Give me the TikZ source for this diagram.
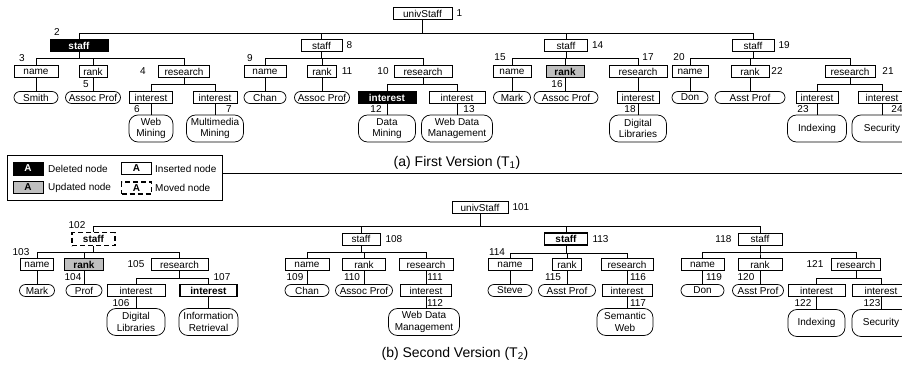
\documentclass[tikz,border=0pt]{standalone}
\usepackage{fontspec}
\setmainfont{Liberation Sans}
\newcommand\fsz{\fontsize{10}{11.8}\selectfont}
\newcommand\capsz{\fontsize{14}{16}\selectfont}
\begin{document}
\begin{tikzpicture}[x=1pt,y=-1pt,
  bx/.style={draw, line width=0.75pt, minimum height=12pt, inner sep=0pt, font=\fsz},
  lf/.style={draw, line width=0.75pt, rounded corners=6pt, minimum height=12pt, inner sep=0pt, font=\fsz},
  lf2/.style={lf, minimum height=27pt, rounded corners=9pt, align=center},
  del/.style={fill=black, text=white, font=\fsz\bfseries},
  upd/.style={fill=black!25, font=\fsz\bfseries},
  ins/.style={line width=1.8pt, font=\fsz\bfseries},
  mov/.style={dash pattern=on 5pt off 3pt, line width=1.1pt, font=\fsz\bfseries},
  lbl/.style={inner sep=0pt, font=\fsz},
  tr/.style={to path={(\tikztostart.south) -- ++(0,#1) -| (\tikztotarget.north)}},
  dn/.style={to path={(\tikztostart.south) -- (\tikztostart.south |- \tikztotarget.north)}},
  ln/.style={line width=0.75pt},
]
\clip (0,0) rectangle (902,365);
% ================= T1 =================
\node[bx, minimum width=59pt] (r1) at (422.5,13.5) {univStaff};
\node[lbl, anchor=west] (l1) at ([xshift=4pt]r1.east) {1};
\node[bx, del, minimum width=58pt] (s2) at (79,45.5) {staff};
\node[lbl] (l2) at (57,32) {2};
\node[bx, minimum width=41pt] (s8) at (321.5,45.5) {staff};
\node[lbl, anchor=west] (l8) at ([xshift=4pt]s8.east) {8};
\node[bx, minimum width=43pt] (s14) at (566,45.5) {staff};
\node[lbl, anchor=west] (l14) at ([xshift=4pt]s14.east) {14};
\node[bx, minimum width=42pt] (s19) at (753,45.5) {staff};
\node[lbl, anchor=west] (l19) at ([xshift=4pt]s19.east) {19};
% staff 2
\node[bx, minimum width=44pt] (n3) at (36,71.5) {name};
\node[lbl] (l3) at (22,58) {3};
\node[bx, minimum width=28pt] (k5) at (93,71.5) {rank};
\node[lbl] (l5) at (86,84) {5};
\node[bx, minimum width=51pt] (r4) at (184,71.5) {research};
\node[lbl] (l4) at (143,71.5) {4};
\node[lf, minimum width=44pt] (v3) at (36,97.5) {Smith};
\node[lf, minimum width=55pt] (v5) at (93,97.5) {Assoc Prof};
\node[bx, minimum width=43pt] (i6) at (151,97.5) {interest};
\node[lbl] (l6) at (137,109) {6};
\node[bx, minimum width=44pt] (i7) at (215,97.5) {interest};
\node[lbl] (l7) at (229,109) {7};
\node[lf2, minimum width=44pt] (v6) at (151,128.5) {Web\\Mining};
\node[lf2, minimum width=57pt] (v7) at (215,128.5) {Multimedia\\Mining};
% staff 8
\node[bx, minimum width=42pt] (n9) at (265,71.5) {name};
\node[lbl] (l9) at (250,58) {9};
\node[bx, minimum width=29pt] (k11) at (322,71.5) {rank};
\node[lbl] (l11) at (347,71.5) {11};
\node[bx, minimum width=58pt] (r10) at (423,71.5) {research};
\node[lbl] (l10) at (383,71.5) {10};
\node[lf, minimum width=42pt] (v9) at (265,97.5) {Chan};
\node[lf, minimum width=55pt] (v11) at (322,97.5) {Assoc Prof};
\node[bx, del, minimum width=58pt] (i12) at (387,97.5) {interest};
\node[lbl] (l12) at (376,109) {12};
\node[bx, minimum width=56pt] (i13) at (457,97.5) {interest};
\node[lbl] (l13) at (469,109) {13};
\node[lf2, minimum width=57pt] (v12) at (387,128.5) {Data\\Mining};
\node[lf2, minimum width=71pt] (v13) at (457,128.5) {Web Data\\Management};
% staff 14
\node[bx, minimum width=38pt] (n15) at (512,71.5) {name};
\node[lbl] (l15) at (500,57) {15};
\node[bx, upd, minimum width=38pt] (k16) at (565,71.5) {rank};
\node[lbl] (l16) at (557,84) {16};
\node[bx, minimum width=58pt] (r17) at (638,71.5) {research};
\node[lbl] (l17) at (648,57) {17};
\node[lf, minimum width=37pt] (v15) at (512,97.5) {Mark};
\node[lf, minimum width=64pt] (v16) at (566,97.5) {Assoc Prof};
\node[bx, minimum width=42pt] (i18) at (638,97.5) {interest};
\node[lbl] (l18) at (630,109) {18};
\node[lf2, minimum width=57pt] (v18) at (638,128.5) {Digital\\Libraries};
% staff 19
\node[bx, minimum width=36pt] (n20) at (690,71.5) {name};
\node[lbl] (l20) at (679,57) {20};
\node[bx, minimum width=38pt] (k22) at (750,71.5) {rank};
\node[lbl] (l22) at (777,71.5) {22};
\node[bx, minimum width=50pt] (r21) at (850,71.5) {research};
\node[lbl] (l21) at (888,71.5) {21};
\node[lf, minimum width=36pt] (v20) at (690,97.5) {Don};
\node[lf, minimum width=70pt] (v22) at (750,97.5) {Asst Prof};
\node[bx, minimum width=42pt] (i23) at (817,97.5) {interest};
\node[lbl] (l23) at (803,109) {23};
\node[bx, minimum width=48pt] (i24) at (882,97.5) {interest};
\node[lbl] (l24) at (897,109) {24};
\node[lf2, minimum width=59pt] (v23) at (817,128.5) {Indexing};
\node[lf2, minimum width=60pt] (v24) at (882,128.5) {Security};
% edges T1
\draw[ln] (r1) edge[tr=13] (s2) edge[tr=13] (s8) edge[tr=13] (s14) edge[tr=13] (s19);
\draw[ln] (s2) edge[tr=6.5] (n3) edge[tr=6.5] (k5) edge[tr=6.5] (r4);
\draw[ln] (s8) edge[tr=6.5] (n9) edge[tr=6.5] (k11) edge[tr=6.5] (r10);
\draw[ln] (s14) edge[tr=6.5] (n15) edge[tr=6.5] (k16) edge[tr=6.5] (r17);
\draw[ln] (s19) edge[tr=6.5] (n20) edge[tr=6.5] (k22) edge[tr=6.5] (r21);
\draw[ln] (r4) edge[tr=6.5] (i6) edge[tr=6.5] (i7);
\draw[ln] (r10) edge[tr=6.5] (i12) edge[tr=6.5] (i13);
\draw[ln] (r21) edge[tr=6.5] (i23) edge[tr=6.5] (i24);
\draw[ln] (r17) edge[dn] (i18);
\foreach \a/\b in {n3/v3,k5/v5,i6/v6,i7/v7,n9/v9,k11/v11,i12/v12,i13/v13,n15/v15,k16/v16,i18/v18,n20/v20,k22/v22,i23/v23,i24/v24}
  \draw[ln] (\a) edge[dn] (\b);
\node[inner sep=0pt, font=\capsz] (capa) at (457,162.5) {(a) First Version (T\textsubscript{1})};
% ================= legend =================
\node[draw, ln, minimum width=215pt, minimum height=45pt, inner sep=0pt] (leg) at (114.5,177.5) {};
\coordinate (legr) at (902,173);
\draw[line width=0.9pt] (leg.east |- legr) -- (legr);
\node[bx, del, minimum width=30pt, minimum height=13pt] (ka) at (28,168.5) {A};
\node[lbl, anchor=west] (kat) at (48,168.5) {Deleted node};
\node[bx, upd, minimum width=30pt, minimum height=12pt] (kb) at (28,187.5) {A};
\node[lbl, anchor=west] (kbt) at (48,187.5) {Updated node};
\node[bx, ins, minimum width=30pt, minimum height=12pt] (kc) at (136.5,168.5) {A};
\node[lbl, anchor=west] (kct) at (155,168.5) {Inserted node};
\node[bx, mov, minimum width=30pt, minimum height=12pt] (kd) at (136.5,188) {A};
\node[lbl, anchor=west] (kdt) at (155,187.5) {Moved node};
% ================= T2 =================
\node[bx, minimum width=56pt] (u101) at (480,207.5) {univStaff};
\node[lbl, anchor=west] (m101) at ([xshift=4pt]u101.east) {101};
\node[bx, mov, minimum width=43pt, minimum height=13pt] (s102) at (93.5,239) {staff};
\node[lbl] (m102) at (77,225) {102};
\node[bx, minimum width=38pt] (s108) at (361,239) {staff};
\node[lbl, anchor=west] (m108) at ([xshift=5pt]s108.east) {108};
\node[bx, ins, minimum width=43pt] (s113) at (566,239) {staff};
\node[lbl, anchor=west] (m113) at ([xshift=4pt]s113.east) {113};
\node[bx, minimum width=44pt] (s118) at (760,239) {staff};
\node[lbl, anchor=east] (m118) at ([xshift=-6pt]s118.west) {118};
% staff 102
\node[bx, minimum width=33pt] (n103) at (37,264.5) {name};
\node[lbl] (m103) at (21,252) {103};
\node[bx, upd, minimum width=39pt] (k104) at (84,264.5) {rank};
\node[lbl] (m104) at (73,277) {104};
\node[bx, minimum width=57pt] (r105) at (179.5,264.5) {research};
\node[lbl] (m105) at (136,264.5) {105};
\node[lf, minimum width=35pt] (w103) at (37,290.5) {Mark};
\node[lf, minimum width=36pt] (w104) at (84,290.5) {Prof};
\node[bx, minimum width=58pt] (i106) at (136,290.5) {interest};
\node[lbl] (m106) at (121,303) {106};
\node[bx, ins, minimum width=57pt] (i107) at (208.5,290.5) {interest};
\node[lbl] (m107) at (222,277) {107};
\node[lf2, minimum width=58pt] (w106) at (136,322) {Digital\\Libraries};
\node[lf2, minimum width=59pt] (w107) at (208.5,322) {Information\\Retrieval};
% staff 108
\node[bx, minimum width=44pt] (n109) at (307,264.5) {name};
\node[lbl] (m109) at (295,277) {109};
\node[bx, minimum width=43pt] (k110) at (364,264.5) {rank};
\node[lbl] (m110) at (352,277) {110};
\node[bx, minimum width=54pt] (r111) at (426,264.5) {research};
\node[lbl] (m111) at (435,277) {111};
\node[lf, minimum width=44pt] (w109) at (307,290.5) {Chan};
\node[lf, minimum width=57pt] (w110) at (364,290.5) {Assoc Prof};
\node[bx, minimum width=51pt] (i112) at (426,290.5) {interest};
\node[lbl] (m112) at (435,303) {112};
\node[lf2, minimum width=71pt] (w112) at (424,322) {Web Data\\Management};
% staff 113
\node[bx, minimum width=44pt] (n114) at (510,264.5) {name};
\node[lbl] (m114) at (497,252) {114};
\node[bx, minimum width=29pt] (k115) at (567,264.5) {rank};
\node[lbl] (m115) at (553,277) {115};
\node[bx, minimum width=52pt] (r116) at (627,264.5) {research};
\node[lbl] (m116) at (638,277) {116};
\node[lf, minimum width=44pt] (w114) at (510,290.5) {Steve};
\node[lf, minimum width=57pt] (w115) at (567,290.5) {Asst Prof};
\node[bx, minimum width=50pt] (i117) at (627,290.5) {interest};
\node[lbl] (m117) at (638,303) {117};
\node[lf2, minimum width=56pt] (w117) at (625,322) {Semantic\\Web};
% staff 118
\node[bx, minimum width=43pt] (n119) at (702.5,264.5) {name};
\node[lbl] (m119) at (714,277) {119};
\node[bx, minimum width=44pt] (k120) at (760,264.5) {rank};
\node[lbl] (m120) at (746,277) {120};
\node[bx, minimum width=49pt] (r121) at (856,264.5) {research};
\node[lbl] (m121) at (815,264.5) {121};
\node[lf, minimum width=43pt] (w119) at (702.5,290.5) {Don};
\node[lf, minimum width=51pt] (w120) at (758,290.5) {Asst Prof};
\node[bx, minimum width=57pt] (i122) at (816.5,290.5) {interest};
\node[lbl] (m122) at (803,303) {122};
\node[bx, minimum width=58pt] (i123) at (881,290.5) {interest};
\node[lbl] (m123) at (872,303) {123};
\node[lf2, minimum width=57pt] (w122) at (816.5,323) {Indexing};
\node[lf2, minimum width=58pt] (w123) at (881,323) {Security};
% edges T2
\draw[ln] (u101) edge[tr=12.5] (s102) edge[tr=12.5] (s108) edge[tr=12.5] (s113) edge[tr=12.5] (s118);
\draw[ln] (s102) edge[tr=6.5] (n103) edge[tr=6.5] (k104) edge[tr=6.5] (r105);
\draw[ln] (s108) edge[tr=7] (n109) edge[tr=7] (k110) edge[tr=7] (r111);
\draw[ln] (s113) edge[tr=7] (n114) edge[tr=7] (k115) edge[tr=7] (r116);
\draw[ln] (s118) edge[tr=7] (n119) edge[tr=7] (k120) edge[tr=7] (r121);
\draw[ln] (r105) edge[tr=7] (i106) edge[tr=7] (i107);
\draw[ln] (r121) edge[tr=7] (i122) edge[tr=7] (i123);
\foreach \a/\b in {r111/i112,r116/i117,n103/w103,k104/w104,i106/w106,i107/w107,n109/w109,k110/w110,i112/w112,n114/w114,k115/w115,i117/w117,n119/w119,k120/w120,i122/w122,i123/w123}
  \draw[ln] (\a) edge[dn] (\b);
\node[inner sep=0pt, font=\capsz] (capb) at (455,354) {(b) Second Version (T\textsubscript{2})};
\end{tikzpicture}
\end{document}
